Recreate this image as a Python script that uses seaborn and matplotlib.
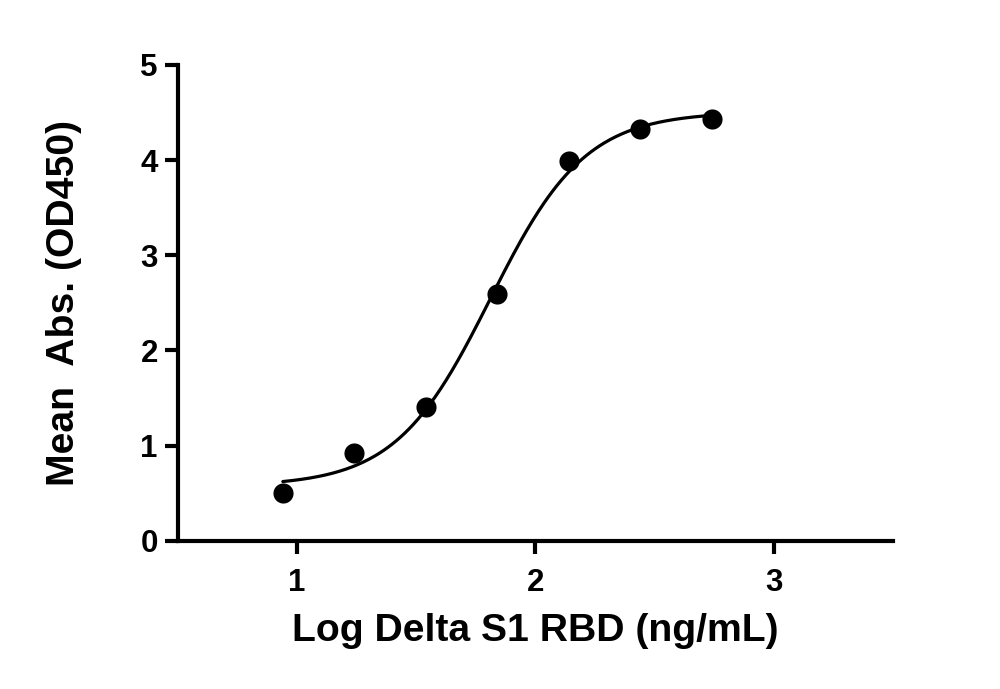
import numpy as np
import pandas as pd
import matplotlib
matplotlib.use("Agg")
import matplotlib.pyplot as plt
import seaborn as sns

# DATA
log_conc = [0.94, 1.24, 1.54, 1.84, 2.14, 2.44, 2.74]
mean_abs = [0.50, 0.92, 1.40, 2.59, 3.99, 4.33, 4.43]
x_ticks = [1, 2, 3]
y_ticks = [0, 1, 2, 3, 4, 5]


def fit_4pl(x, y, n_iter=200):
    """Levenberg-Marquardt fit of Y = Bottom + (Top-Bottom)/(1+10^((LogEC50-X)*Hill))."""
    x = np.asarray(x, float)
    y = np.asarray(y, float)
    p = np.array([y.min(), y.max(), np.median(x), 1.0])
    lam = 1e-3

    def model(p):
        b, t, ec, h = p
        return b + (t - b) / (1 + 10 ** ((ec - x) * h))

    def resid(p):
        return y - model(p)

    for _ in range(n_iter):
        r = resid(p)
        J = np.zeros((len(x), 4))
        eps = 1e-6
        for j in range(4):
            dp = np.zeros(4)
            dp[j] = eps
            J[:, j] = (model(p + dp) - model(p - dp)) / (2 * eps)
        A = J.T @ J
        g = J.T @ r
        step = np.linalg.solve(A + lam * np.diag(np.diag(A)), g)
        p_new = p + step
        if np.sum(resid(p_new) ** 2) < np.sum(r ** 2):
            p = p_new
            lam *= 0.3
        else:
            lam *= 10
    return p


def logistic(x, p):
    b, t, ec, h = p
    return b + (t - b) / (1 + 10 ** ((ec - x) * h))


params = fit_4pl(log_conc, mean_abs)
x_fit = np.linspace(min(log_conc), max(log_conc), 300)
curve = pd.DataFrame({"x": x_fit, "y": logistic(x_fit, params)})
points = pd.DataFrame({"x": log_conc, "y": mean_abs})

sns.set_style("ticks")
plt.rcParams["font.family"] = ["Liberation Sans", "DejaVu Sans"]
plt.rcParams["font.weight"] = "bold"
plt.rcParams["text.color"] = "black"
plt.rcParams["axes.labelcolor"] = "black"
plt.rcParams["xtick.color"] = "black"
plt.rcParams["ytick.color"] = "black"

fig = plt.figure(figsize=(10, 6.89), dpi=100)
ax = fig.add_axes([0.178, 0.2153, 0.7147, 0.6904])

sns.lineplot(data=curve, x="x", y="y", ax=ax, color="black", linewidth=2.3, sort=True)
sns.scatterplot(data=points, x="x", y="y", ax=ax, color="black", s=210, edgecolor="black", linewidth=0, zorder=3)

ax.set_xlim(0.5, 3.5)
ax.set_ylim(0, 5)
ax.set_xticks(x_ticks)
ax.set_yticks(y_ticks)
ax.set_xticklabels([str(t) for t in x_ticks], fontsize=22.5, fontweight="bold", color="black")
ax.set_yticklabels([str(t) for t in y_ticks], fontsize=22.5, fontweight="bold", color="black")
ax.tick_params(axis="both", direction="out", length=9.5, width=3, color="black")
ax.tick_params(axis="x", pad=10)
ax.tick_params(axis="y", pad=5)

for side in ["left", "bottom"]:
    ax.spines[side].set_linewidth(3)
    ax.spines[side].set_color("black")
sns.despine(ax=ax)

ax.set_xlabel("Log Delta S1 RBD (ng/mL)", fontsize=28.2, fontweight="bold", labelpad=11, color="black")
ax.set_ylabel("Mean  Abs. (OD450)", fontsize=28.2, fontweight="bold", labelpad=42, color="black")

fig.savefig("out.png", dpi=100)
